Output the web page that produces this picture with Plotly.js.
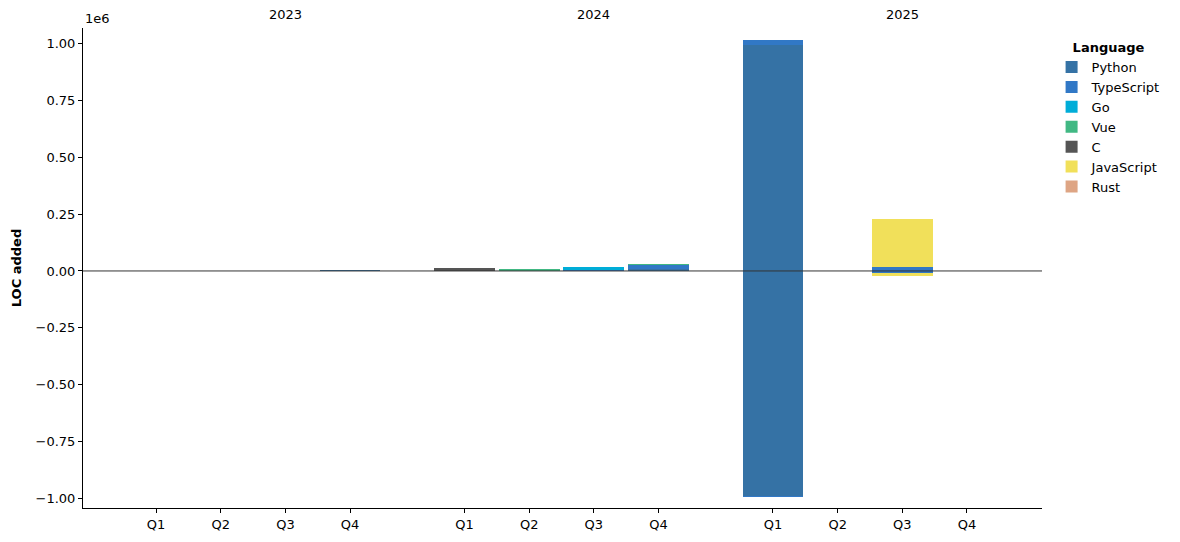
<!DOCTYPE html>
<html>
<head>
<meta charset="utf-8">
<script src="https://cdn.plot.ly/plotly-3.0.1.min.js"></script>
<style>html,body{margin:0;padding:0;background:#fff;}#chart{width:1180px;height:542px;}</style>
</head>
<body>
<div id="chart"></div>
<script>
// ---- data ----
const years = ["2023", "2024", "2025"];
const quarters = ["Q1", "Q2", "Q3", "Q4"];
const languages = ["Python", "TypeScript", "Go", "Vue", "C", "JavaScript", "Rust"];
const colors = ["#3572A5", "#3178C6", "#00ADD8", "#41B883", "#555555", "#F1E05A", "#DEA584"];

// LOC per quarter (2023Q1..2023Q4, 2024Q1..2024Q4, 2025Q1..2025Q4)
const pythonAdded     = [0, 0, 0, 6000,  0, 0, 0, 10000,  993000, 0, 0, 0];
const typescriptAdded = [0, 0, 0, 0,     0, 0, 6000, 15000,  22000, 0, 19000, 0];
const goAdded         = [0, 0, 0, 0,     0, 0, 10000, 0,     0, 0, 0, 0];
const vueAdded        = [0, 0, 0, 0,     0, 9000, 2000, 7000, 0, 0, 0, 0];
const cAdded          = [0, 0, 0, 0,     12000, 0, 0, 0,     0, 0, 0, 0];
const javascriptAdded = [0, 0, 0, 0,     0, 0, 0, 0,         0, 0, 211000, 0];
const rustAdded       = [0, 0, 0, 0,     0, 0, 0, 0,         0, 0, 0, 0];

const pythonRemoved     = [0, 0, 0, 0, 0, 0, 0, 0, -988000, 0, 0, 0];
const typescriptRemoved = [0, 0, 0, 0, 0, 0, 0, 0, -5000, 0, -7500, 0];
const goRemoved         = [0, 0, 0, 0, 0, 0, 0, 0, 0, 0, 0, 0];
const vueRemoved        = [0, 0, 0, 0, 0, 0, 0, 0, 0, 0, 0, 0];
const cRemoved          = [0, 0, 0, 0, 0, 0, 0, 0, 0, 0, 0, 0];
const javascriptRemoved = [0, 0, 0, 0, 0, 0, 0, 0, 0, 0, -14000, 0];
const rustRemoved       = [0, 0, 0, 0, 0, 0, 0, 0, 0, 0, 0, 0];

const yTickVals = [-1000000, -750000, -500000, -250000, 0, 250000, 500000, 750000, 1000000];
const yTickText = ["\u22121.00", "\u22120.75", "\u22120.50", "\u22120.25", "0.00", "0.25", "0.50", "0.75", "1.00"];

// ---- layout helpers ----
const GROUP_STEP = 4.77;
const xPos = [];
const xLabels = [];
years.forEach((y, yi) => quarters.forEach((q, qi) => { xPos.push(yi * GROUP_STEP + qi); xLabels.push(q); }));

const added = [pythonAdded, typescriptAdded, goAdded, vueAdded, cAdded, javascriptAdded, rustAdded];
const removed = [pythonRemoved, typescriptRemoved, goRemoved, vueRemoved, cRemoved, javascriptRemoved, rustRemoved];

const traces = [];
languages.forEach((lang, i) => {
  traces.push({
    type: "bar", x: xPos, y: added[i], name: lang, legendgroup: lang,
    marker: {color: colors[i], line: {width: 0}}, width: 0.94, hoverinfo: "skip"
  });
});
languages.forEach((lang, i) => {
  traces.push({
    type: "bar", x: xPos, y: removed[i], name: lang, legendgroup: lang, showlegend: false,
    marker: {color: colors[i], line: {width: 0}}, width: 0.94, hoverinfo: "skip"
  });
});

const font = {family: "DejaVu Sans, sans-serif", size: 13, color: "#000"};
const annotations = years.map((y, yi) => ({
  text: y, xref: "x", yref: "paper", x: xPos[yi * 4 + 2], y: 1, yanchor: "bottom", yshift: 4,
  showarrow: false, font: font
}));
annotations.push({text: "1e6", xref: "paper", yref: "paper", x: 0, y: 1, xanchor: "left", yanchor: "bottom", yshift: 0, showarrow: false, font: font});

const layout = {
  width: 1180, height: 542,
  margin: {l: 83, r: 138, t: 28, b: 34},
  paper_bgcolor: "#fff", plot_bgcolor: "#fff",
  barmode: "relative", bargap: 0,
  font: font,
  showlegend: true,
  legend: {
    x: 1.01, y: 0.985, xanchor: "left", yanchor: "top", traceorder: "normal",
    title: {text: "<b>Language</b>", side: "top center", font: font},
    font: font, bgcolor: "rgba(0,0,0,0)", tracegroupgap: 0, itemwidth: 30
  },
  xaxis: {
    range: [-1.13, 13.70], tickvals: xPos, ticktext: xLabels,
    showgrid: false, zeroline: false, showline: true, linecolor: "#000", linewidth: 1,
    ticks: "outside", ticklen: 4, tickcolor: "#000", mirror: false, tickfont: font
  },
  yaxis: {
    range: [-1042000, 1068000], tickvals: yTickVals, ticktext: yTickText,
    showgrid: false, zeroline: false, showline: true, linecolor: "#000", linewidth: 1,
    ticks: "outside", ticklen: 4, tickcolor: "#000", tickfont: font,
    title: {text: "<b>LOC added</b>", font: font, standoff: 11}
  },
  shapes: [{type: "line", xref: "paper", yref: "y", x0: 0, x1: 1, y0: 0, y1: 0, layer: "above", line: {color: "#333", width: 1}}],
  annotations: annotations
};

Plotly.newPlot("chart", traces, layout, {displayModeBar: false, staticPlot: true});
</script>
</body>
</html>
